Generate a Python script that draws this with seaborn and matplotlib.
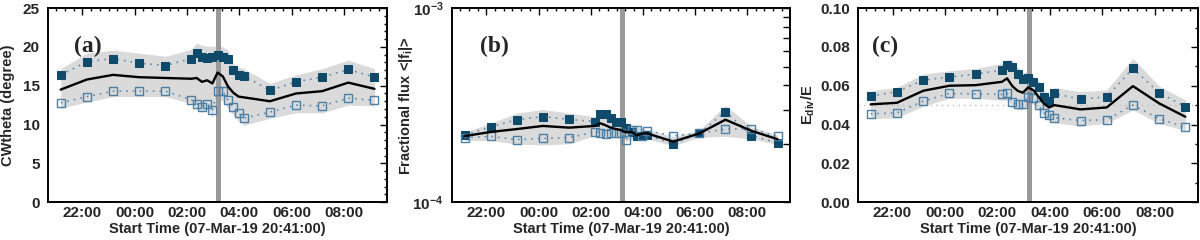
import numpy as np
import matplotlib
matplotlib.use('Agg')
import matplotlib.pyplot as plt
import matplotlib.ticker as mticker
import seaborn as sns

sns.set_theme(style='white')
plt.rcParams['font.family'] = ['Liberation Sans', 'DejaVu Sans']
plt.rcParams['font.weight'] = 'bold'
plt.rcParams['mathtext.fontset'] = 'custom'
plt.rcParams['mathtext.rm'] = 'Liberation Sans:bold'
plt.rcParams['mathtext.bf'] = 'Liberation Sans:bold'
plt.rcParams['mathtext.it'] = 'Liberation Sans:bold'
plt.rcParams['mathtext.default'] = 'bf'

# hours since 00:00 on 07-Mar-19
TIMES = [21.17, 22.17, 23.17, 24.17, 25.17, 26.17, 26.37, 26.57, 26.77, 26.97,
         27.17, 27.37, 27.57, 27.77, 27.97, 28.17, 29.17, 30.17, 31.17, 32.17, 33.17]
X_START = 20.683
X_END = 33.65
FLARE_TIME = 27.2

# (a) CWtheta
CW_HI = [16.4, 18.1, 18.5, 17.9, 17.6, 18.5, 19.2, 18.7, 18.6, 18.7, 19.0,
         18.7, 18.4, 17.0, 16.4, 16.3, 14.4, 15.5, 16.1, 17.1, 16.1]
CW_MEAN = [14.5, 15.8, 16.4, 16.1, 16.0, 15.9, 16.0, 15.5, 15.7, 15.3, 16.7,
           16.2, 14.9, 14.1, 13.6, 13.5, 13.0, 14.0, 14.3, 15.4, 14.6]
CW_LO = [12.8, 13.6, 14.3, 14.3, 14.3, 13.2, 12.7, 12.3, 12.7, 11.9, 14.3,
         14.3, 13.1, 12.2, 11.5, 10.8, 11.6, 12.5, 12.4, 13.4, 13.1]
CW_BAND_UP = [17.2, 19.2, 19.6, 19.2, 18.8, 19.7, 20.5, 20.2, 20.1, 20.1, 20.1,
              20.0, 19.6, 17.9, 17.4, 17.2, 15.3, 16.4, 17.2, 18.3, 17.2]
CW_BAND_LO = [12.1, 12.9, 13.6, 13.6, 13.6, 12.7, 12.1, 11.6, 12.1, 10.9, 13.3,
              13.1, 12.1, 11.2, 10.5, 9.9, 10.8, 11.5, 11.5, 12.5, 12.4]

# (b) fractional flux, units of 1e-4
FLUX_HI = [2.22, 2.44, 2.66, 2.76, 2.67, 2.60, 2.84, 2.86, 2.70, 2.60, 2.58,
           2.42, 2.30, 2.18, 2.20, 2.22, 1.99, 2.26, 2.93, 2.20, 2.02]
FLUX_MEAN = [2.19, 2.30, 2.38, 2.47, 2.42, 2.47, 2.55, 2.49, 2.42, 2.38, 2.35,
             2.29, 2.30, 2.21, 2.26, 2.26, 2.05, 2.26, 2.66, 2.33, 2.11]
FLUX_LO = [2.15, 2.18, 2.10, 2.13, 2.15, 2.30, 2.28, 2.24, 2.27, 2.28, 2.27,
           2.10, 2.36, 2.36, 2.19, 2.33, 2.20, 2.26, 2.38, 2.39, 2.18]
FLUX_BAND_UP = [2.30, 2.55, 2.88, 3.00, 2.88, 2.75, 3.00, 3.00, 2.85, 2.72, 2.68,
                2.55, 2.50, 2.45, 2.40, 2.36, 2.18, 2.35, 3.15, 2.45, 2.22]
FLUX_BAND_LO = [2.08, 2.08, 1.99, 1.97, 2.00, 2.20, 2.20, 2.18, 2.20, 2.20, 2.18,
                2.05, 2.12, 2.08, 2.10, 2.12, 1.95, 2.16, 2.18, 2.12, 1.98]

# (c) E_div / E
EDIV_HI = [0.0547, 0.0569, 0.0629, 0.0645, 0.0660, 0.0680, 0.0706, 0.0697, 0.0663,
           0.0634, 0.0638, 0.0617, 0.0591, 0.0543, 0.0521, 0.0560, 0.0530, 0.0543,
           0.0689, 0.0564, 0.0492]
EDIV_MEAN = [0.0504, 0.0512, 0.0574, 0.0600, 0.0603, 0.0620, 0.0638, 0.0598, 0.0574,
             0.0564, 0.0591, 0.0577, 0.0543, 0.0509, 0.0488, 0.0500, 0.0478, 0.0488,
             0.0598, 0.0509, 0.0440]
EDIV_LO = [0.0455, 0.0460, 0.0520, 0.0560, 0.0558, 0.0555, 0.0562, 0.0515, 0.0505,
           0.0505, 0.0540, 0.0535, 0.0500, 0.0460, 0.0450, 0.0435, 0.0420, 0.0425,
           0.0500, 0.0430, 0.0385]
EDIV_BAND_UP = [0.0574, 0.0591, 0.0660, 0.0677, 0.0689, 0.0715, 0.0735, 0.0732, 0.0697,
                0.0669, 0.0669, 0.0651, 0.0625, 0.0578, 0.0555, 0.0591, 0.0569, 0.0578,
                0.0741, 0.0598, 0.0526]
EDIV_BAND_LO = [0.0430, 0.0435, 0.0495, 0.0535, 0.0535, 0.0525, 0.0525, 0.0490, 0.0475,
                0.0475, 0.0510, 0.0505, 0.0475, 0.0440, 0.0420, 0.0409, 0.0392, 0.0406,
                0.0475, 0.0406, 0.0368]
EDIV_REF = 0.05

HI_COLOR = '#0f4a6b'
LO_COLOR = '#4c7fa6'
DOT_COLOR = '#5b8cb3'
BAND_COLOR = '#dadada'
FLARE_COLOR = '#9a9a9a'
LABEL_SIZE = 10.5
TICK_SIZE = 11


def hour_label(h, pos):
    return f'{int(round(h)) % 24:02d}:00'


def draw_panel(ax, band_lo, band_up, hi, mean, lo):
    ax.fill_between(TIMES, band_lo, band_up, color=BAND_COLOR, lw=0, zorder=1)
    ax.axvline(FLARE_TIME, color=FLARE_COLOR, lw=3.6, zorder=2)
    sns.lineplot(x=TIMES, y=hi, ax=ax, color=DOT_COLOR, linestyle=(0, (1, 3)), lw=1.2,
                 marker='s', markersize=6, markerfacecolor=HI_COLOR,
                 markeredgecolor=HI_COLOR, zorder=4)
    sns.lineplot(x=TIMES, y=lo, ax=ax, color=DOT_COLOR, linestyle=(0, (1, 3)), lw=1.2,
                 marker='s', markersize=5.8, markerfacecolor='none',
                 markeredgecolor=LO_COLOR, markeredgewidth=1.0, zorder=4)
    sns.lineplot(x=TIMES, y=mean, ax=ax, color='black', lw=1.7, zorder=5)

    ax.set_xlim(X_START, X_END)
    ax.xaxis.set_major_locator(mticker.FixedLocator([22, 24, 26, 28, 30, 32]))
    ax.xaxis.set_major_formatter(mticker.FuncFormatter(hour_label))
    ax.xaxis.set_minor_locator(mticker.MultipleLocator(1 / 3))
    ax.set_xlabel('Start Time (07-Mar-19 20:41:00)', fontsize=LABEL_SIZE,
                  fontweight='bold', labelpad=1)
    ax.tick_params(which='both', direction='in', top=True, right=True,
                   labelsize=TICK_SIZE, width=1.0, color='black', pad=3)
    ax.tick_params(axis='y', pad=6)
    ax.tick_params(which='major', length=5)
    ax.tick_params(which='minor', length=2.5)
    for sp in ax.spines.values():
        sp.set_color('black')
        sp.set_linewidth(1.4)
    ax.grid(False)


fig = plt.figure(figsize=(12, 2.4), dpi=100)
ax_a = fig.add_axes([0.040, 0.158, 0.2825, 0.808])
ax_b = fig.add_axes([0.3767, 0.158, 0.2817, 0.808])
ax_c = fig.add_axes([0.715, 0.158, 0.2833, 0.808])

# (a)
draw_panel(ax_a, CW_BAND_LO, CW_BAND_UP, CW_HI, CW_MEAN, CW_LO)
ax_a.set_ylim(0, 25)
ax_a.yaxis.set_major_locator(mticker.MultipleLocator(5))
ax_a.yaxis.set_minor_locator(mticker.MultipleLocator(1))
ax_a.set_ylabel('CWtheta (degree)', fontsize=LABEL_SIZE, fontweight='bold')
ax_a.yaxis.set_label_coords(-0.097, 0.5)
ax_a.text(0.077, 0.80, '(a)', transform=ax_a.transAxes, fontsize=17, fontweight='bold',
          family=['Liberation Serif', 'DejaVu Serif'], va='center', ha='left')

# (b)
flux_scale = 1e-4
draw_panel(ax_b, [v * flux_scale for v in FLUX_BAND_LO], [v * flux_scale for v in FLUX_BAND_UP],
           [v * flux_scale for v in FLUX_HI], [v * flux_scale for v in FLUX_MEAN],
           [v * flux_scale for v in FLUX_LO])
ax_b.set_yscale('log')
ax_b.set_ylim(1e-4, 1e-3)
ax_b.yaxis.set_major_locator(mticker.FixedLocator([1e-4, 1e-3]))
ax_b.yaxis.set_major_formatter(mticker.FixedFormatter([r'10$^{-4}$', r'10$^{-3}$']))
ax_b.yaxis.set_minor_locator(mticker.LogLocator(base=10, subs=np.arange(2, 10)))
ax_b.yaxis.set_minor_formatter(mticker.NullFormatter())
ax_b.tick_params(axis='y', which='minor', length=5)
ax_b.set_ylabel(r'Fractional flux <|f$_{i}$|>', fontsize=LABEL_SIZE, fontweight='bold')
ax_b.yaxis.set_label_coords(-0.109, 0.5)
ax_b.text(0.083, 0.80, '(b)', transform=ax_b.transAxes, fontsize=17, fontweight='bold',
          family=['Liberation Serif', 'DejaVu Serif'], va='center', ha='left')

# (c)
ax_c.axhline(EDIV_REF, color='#bdbdbd', lw=1.0, linestyle=(0, (1, 3)), zorder=1.5)
draw_panel(ax_c, EDIV_BAND_LO, EDIV_BAND_UP, EDIV_HI, EDIV_MEAN, EDIV_LO)
ax_c.set_ylim(0, 0.10)
ax_c.yaxis.set_major_locator(mticker.MultipleLocator(0.02))
ax_c.yaxis.set_major_formatter(mticker.FormatStrFormatter('%.2f'))
ax_c.yaxis.set_minor_locator(mticker.MultipleLocator(0.01))
ax_c.set_ylabel(r'E$_{div}$/E', fontsize=LABEL_SIZE, fontweight='bold')
ax_c.yaxis.set_label_coords(-0.12, 0.5)
ax_c.text(0.041, 0.80, '(c)', transform=ax_c.transAxes, fontsize=17, fontweight='bold',
          family=['Liberation Serif', 'DejaVu Serif'], va='center', ha='left')

fig.savefig('out.png', dpi=100)
